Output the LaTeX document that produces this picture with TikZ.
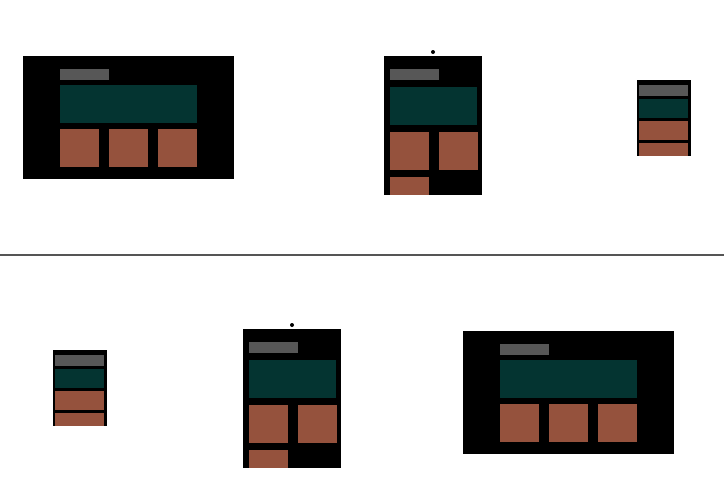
\documentclass[tikz,border=0pt]{standalone}
\usepackage{xcolor}
\definecolor{frameBG}{HTML}{000000}
\definecolor{navGray}{HTML}{575757}
\definecolor{heroTeal}{HTML}{043431}
\definecolor{cardBrown}{HTML}{95523D}
\definecolor{ruleGray}{HTML}{555555}

\begin{document}
\begin{tikzpicture}[
  x=1pt, y=-1pt,
  device/.style={fill=frameBG},
  nav/.style={fill=navGray},
  hero/.style={fill=heroTeal},
  card/.style={fill=cardBrown},
  cam/.style={fill=black},
]
  \useasboundingbox (0,0) rectangle (724,480);

  % top row: desktop, tablet, phone
  \fill[device] (23,56) rectangle (234,179);
  \fill[nav] (60,69) rectangle (109,80);
  \fill[hero] (60,85) rectangle (197,123);
  \foreach \x in {60,109,158}
    \fill[card] (\x,129) rectangle ++(39,38);

  \fill[cam] (433,52) circle (2);
  \fill[device] (384,56) rectangle (482,195);
  \fill[nav] (390,69) rectangle (439,80);
  \fill[hero] (390,87) rectangle (477,125);
  \foreach \x in {390,439}
    \fill[card] (\x,132) rectangle ++(39,38);
  \fill[card] (390,177) rectangle (429,195);

  \fill[device] (637,80) rectangle (691,156);
  \fill[nav] (639,85) rectangle (688,96);
  \fill[hero] (639,99) rectangle (688,118);
  \fill[card] (639,121) rectangle (688,140);
  \fill[card] (639,143) rectangle (688,156);

  % divider
  \draw[ruleGray, line width=2pt] (0,255) -- (724,255);

  % bottom row: phone, tablet, desktop
  \fill[device] (53,350) rectangle (107,426);
  \fill[nav] (55,355) rectangle (104,366);
  \fill[hero] (55,369) rectangle (104,388);
  \fill[card] (55,391) rectangle (104,410);
  \fill[card] (55,413) rectangle (104,426);

  \fill[cam] (292,325) circle (2);
  \fill[device] (243,329) rectangle (341,468);
  \fill[nav] (249,342) rectangle (298,353);
  \fill[hero] (249,360) rectangle (336,398);
  \foreach \x in {249,298}
    \fill[card] (\x,405) rectangle ++(39,38);
  \fill[card] (249,450) rectangle (288,468);

  \fill[device] (463,331) rectangle (674,454);
  \fill[nav] (500,344) rectangle (549,355);
  \fill[hero] (500,360) rectangle (637,398);
  \foreach \x in {500,549,598}
    \fill[card] (\x,404) rectangle ++(39,38);
\end{tikzpicture}
\end{document}
